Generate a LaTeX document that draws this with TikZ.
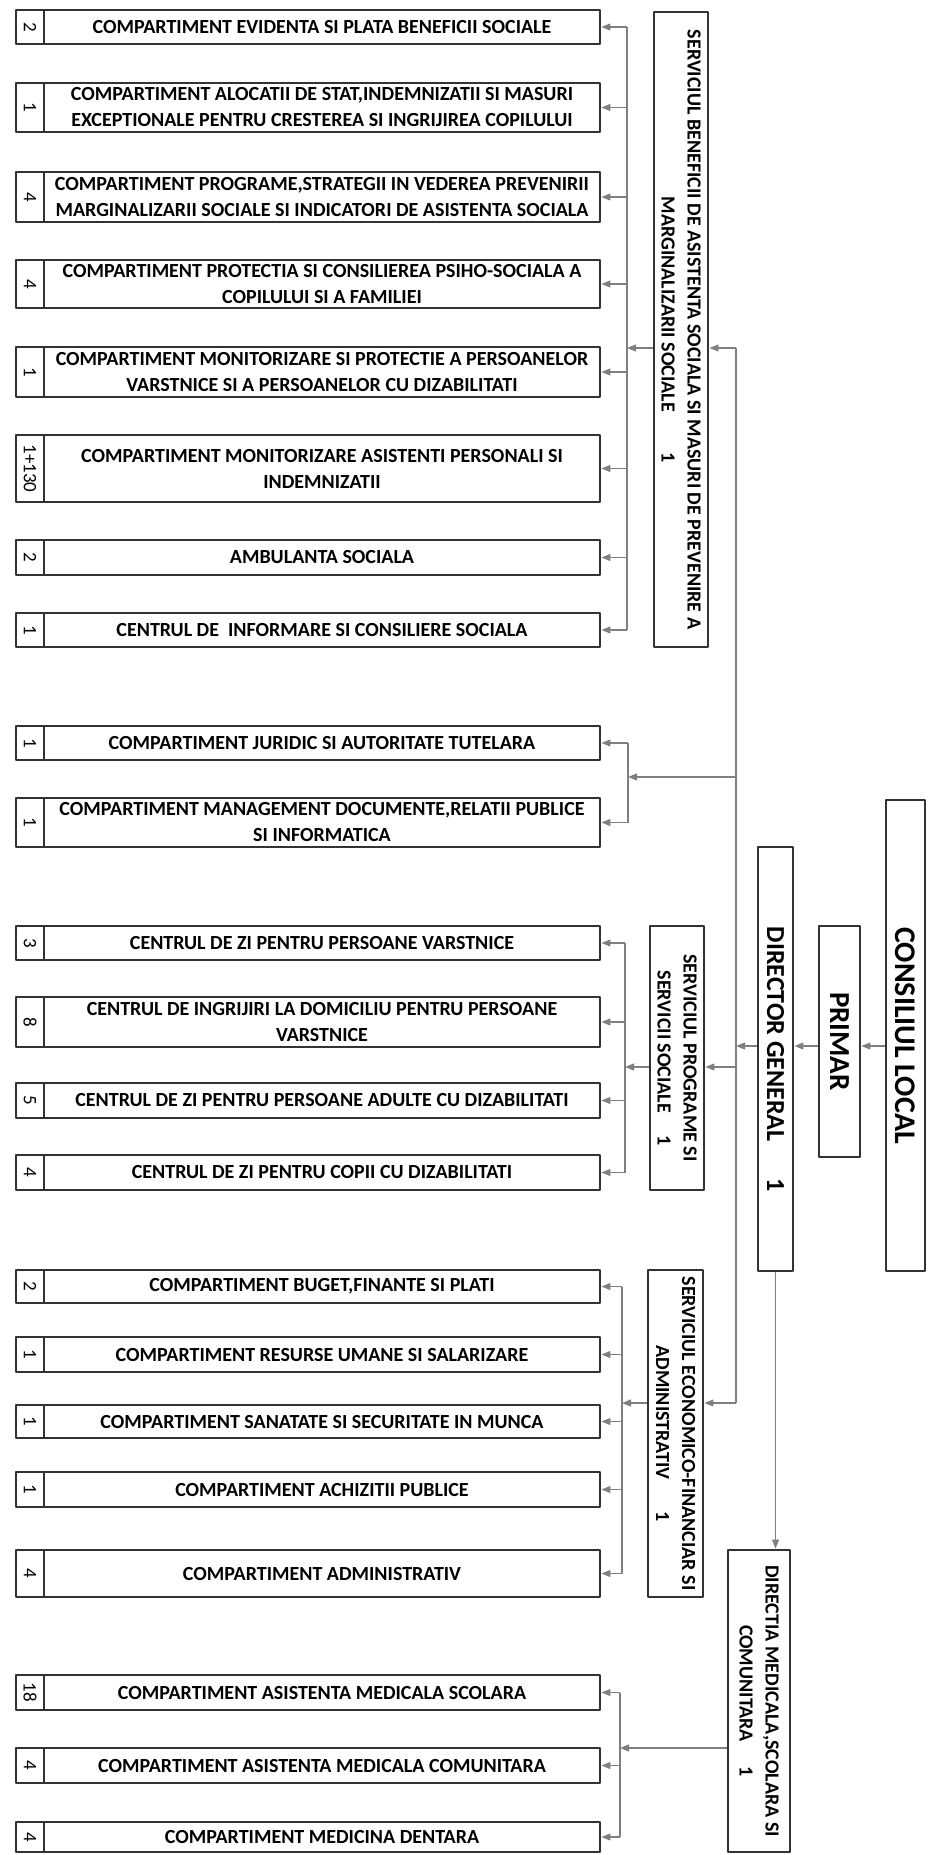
\documentclass[tikz,border=0pt]{standalone}
\usepackage{fontspec}
\setmainfont{Carlito}
\usetikzlibrary{arrows.meta}
\definecolor{boxline}{HTML}{333333}
\definecolor{connline}{HTML}{7F7F7F}
\begin{document}
\begin{tikzpicture}[x=1pt, y=-1pt, line join=round, >={Stealth[length=9pt,width=7pt,inset=0pt]}]
	\tikzset{comp/.style={draw=boxline, line width=2.9pt, inner sep=0pt, align=center, minimum width=556pt, font=\fontsize{20}{26}\selectfont\bfseries},
		nrbox/.style={draw=boxline, line width=2.9pt, inner sep=0pt, rotate=-90, minimum height=28pt, font=\fontsize{19}{22}\selectfont},
		head/.style={draw=boxline, line width=2.9pt, inner sep=0pt, rotate=-90, align=center, font=\fontsize{20}{26}\selectfont\bfseries},
		conn/.style={draw=connline, line width=1.1pt}}
	\useasboundingbox (0,0) rectangle (928,1855);
	\foreach \n/\a/\b/\t [count=\i] in {
		2/10/44/{COMPARTIMENT EVIDENTA SI PLATA BENEFICII SOCIALE},
		1/83/132/{COMPARTIMENT ALOCATII DE STAT,INDEMNIZATII SI MASURI\\EXCEPTIONALE PENTRU CRESTEREA SI INGRIJIREA COPILULUI},
		4/172/222/{COMPARTIMENT PROGRAME,STRATEGII IN VEDEREA PREVENIRII\\MARGINALIZARII SOCIALE SI INDICATORI DE ASISTENTA SOCIALA},
		4/260/308/{COMPARTIMENT PROTECTIA SI CONSILIEREA PSIHO-SOCIALA A\\COPILULUI SI A FAMILIEI},
		1/347/397/{COMPARTIMENT MONITORIZARE SI PROTECTIE A PERSOANELOR\\VARSTNICE SI A PERSOANELOR CU DIZABILITATI},
		1+130/435/502/{COMPARTIMENT MONITORIZARE ASISTENTI PERSONALI SI\\INDEMNIZATII},
		2/540/575/{AMBULANTA SOCIALA},
		1/613/647/{CENTRUL DE\ \ INFORMARE SI CONSILIERE SOCIALA},
		1/726/760/{COMPARTIMENT JURIDIC SI AUTORITATE TUTELARA},
		1/798/847/{COMPARTIMENT MANAGEMENT DOCUMENTE,RELATII PUBLICE\\SI INFORMATICA},
		3/926/960/{CENTRUL DE ZI PENTRU PERSOANE VARSTNICE},
		8/997/1047/{CENTRUL DE INGRIJIRI LA DOMICILIU PENTRU PERSOANE\\VARSTNICE},
		5/1083/1118/{CENTRUL DE ZI PENTRU PERSOANE ADULTE CU DIZABILITATI},
		4/1155/1190/{CENTRUL DE ZI PENTRU COPII CU DIZABILITATI},
		2/1270/1303/{COMPARTIMENT BUGET,FINANTE SI PLATI},
		1/1337/1372/{COMPARTIMENT RESURSE UMANE SI SALARIZARE},
		1/1405/1438/{COMPARTIMENT SANATATE SI SECURITATE IN MUNCA},
		1/1472/1507/{COMPARTIMENT ACHIZITII PUBLICE},
		4/1550/1597/{COMPARTIMENT ADMINISTRATIV},
		18/1675/1710/{COMPARTIMENT ASISTENTA MEDICALA SCOLARA},
		4/1748/1783/{COMPARTIMENT ASISTENTA MEDICALA COMUNITARA},
		4/1822/1852/{COMPARTIMENT MEDICINA DENTARA}}{
		\node[comp, minimum height={(\b-\a)*1pt}] (c\i) at (322,{(\a+\b)/2}) {\t};
		\node[nrbox, minimum width={(\b-\a)*1pt}] (n\i) at (30,{(\a+\b)/2}) {\n};
	}
	\node[head, minimum width=635pt, minimum height=54pt] (sb) at (681,329.5) {SERVICIUL BENEFICII DE ASISTENTA SOCIALA SI MASURI DE PREVENIRE A\\MARGINALIZARII SOCIALE\hspace{2em}1};
	\node[head, minimum width=264pt, minimum height=54pt] (sp) at (677,1058) {SERVICIUL PROGRAME SI\\SERVICII SOCIALE\hspace{1.1em}1};
	\node[head, minimum width=327pt, minimum height=55pt] (se) at (675.5,1433.5) {SERVICIUL ECONOMICO-FINANCIAR SI\\ADMINISTRATIV\hspace{1.6em}1};
	\node[head, minimum width=302pt, minimum height=62pt] (dm) at (759,1701) {DIRECTIA MEDICALA,SCOLARA SI\\COMUNITARA\hspace{1.25em}1};
	\node[head, minimum width=424pt, minimum height=35pt, font=\fontsize{26}{30}\selectfont\bfseries] (dg) at (775.5,1059) {DIRECTOR GENERAL\hspace{1.4em}1};
	\node[head, minimum width=231pt, minimum height=41pt, font=\fontsize{29}{32}\selectfont\bfseries] (pr) at (839.5,1041.5) {PRIMAR};
	\node[head, minimum width=471pt, minimum height=39pt, font=\fontsize{30}{34}\selectfont\bfseries] (cl) at (905.5,1035.5) {CONSILIUL LOCAL};
	\coordinate (tA) at (627,0);
	\coordinate (tB) at (628,0);
	\coordinate (tC) at (625,0);
	\coordinate (tD) at (622,0);
	\coordinate (tE) at (620,0);
	\coordinate (jb) at (736,348);
	\coordinate (jj) at (736,777);
	\coordinate (jd) at (736,1046);
	\coordinate (jp) at (736,1067);
	\coordinate (je) at (736,1403);
	\coordinate (jm) at (700,1748);
	\draw[conn] (jb) -- (je);
	\draw[conn,->] (cl.south |- jd) -- (pr.north |- jd);
	\draw[conn,->] (pr.south |- jd) -- (dg.north |- jd);
	\draw[conn,->] (dg.south |- jd) -- (jd);
	\draw[conn,->] (dg.east) -- (dg.east |- dm.west);
	\draw[conn,->] (jb) -- (jb -| sb.north);
	\draw[conn,->] (jb -| sb.south) -- (jb -| tA);
	\draw[conn] (c1.east -| tA) -- (c8.east -| tA);
	\foreach \i in {1,...,8} \draw[conn,->] (c\i.east -| tA) -- (c\i.east);
	\draw[conn,->] (jj) -- (jj -| tB);
	\draw[conn] (c9.east -| tB) -- (c10.east -| tB);
	\foreach \i in {9,10} \draw[conn,->] (c\i.east -| tB) -- (c\i.east);
	\draw[conn,->] (jp) -- (jp -| sp.north);
	\draw[conn,->] (jp -| sp.south) -- (jp -| tC);
	\draw[conn] (c11.east -| tC) -- (c14.east -| tC);
	\foreach \i in {11,...,14} \draw[conn,->] (c\i.east -| tC) -- (c\i.east);
	\draw[conn,->] (je) -- (je -| se.north);
	\draw[conn,->] (je -| se.south) -- (je -| tD);
	\draw[conn] (c15.east -| tD) -- (c19.east -| tD);
	\foreach \i in {15,...,19} \draw[conn,->] (c\i.east -| tD) -- (c\i.east);
	\draw[conn,->] (jm -| dm.south) -- (jm -| tE);
	\draw[conn] (c20.east -| tE) -- (c22.east -| tE);
	\foreach \i in {20,21,22} \draw[conn,->] (c\i.east -| tE) -- (c\i.east);
\end{tikzpicture}
\end{document}
